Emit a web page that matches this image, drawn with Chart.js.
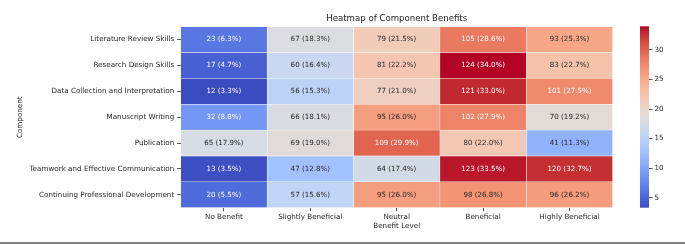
<!DOCTYPE html>
<html>
<head>
<meta charset="utf-8">
<script src="https://cdn.jsdelivr.net/npm/chart.js@4.4.1/dist/chart.umd.min.js"></script>
<style>
    body { margin: 0; background: #fff; }
    #wrap { position: relative; width: 685px; height: 245px; }
    #heatmap { position: absolute; left: 0; top: 0; }
    #cbar { position: absolute; left: 630px; top: 0; }
    #rule { position: absolute; left: 0; top: 242px; width: 685px; height: 2px; background: #808080; }
</style>
</head>
<body>
<div id="wrap">
    <canvas id="heatmap" width="685" height="245"></canvas>
    <canvas id="cbar" width="55" height="245"></canvas>
    <div id="rule"></div>
</div>
<script>
const components = [
    'Literature Review Skills',
    'Research Design Skills',
    'Data Collection and Interpretation',
    'Manuscript Writing',
    'Publication',
    'Teamwork and Effective Communication',
    'Continuing Professional Development'
];
const levels = ['No Benefit', 'Slightly Beneficial', 'Neutral', 'Beneficial', 'Highly Beneficial'];

// counts per benefit level (one value per component)
const noBenefit = [23, 17, 12, 32, 65, 13, 20];
const slightlyBeneficial = [67, 60, 56, 66, 69, 47, 57];
const neutral = [79, 81, 77, 95, 109, 64, 95];
const beneficial = [105, 124, 121, 102, 80, 123, 98];
const highlyBeneficial = [93, 83, 101, 70, 41, 120, 96];

// row percentages
const noBenefitPct = [6.3, 4.7, 3.3, 8.8, 17.9, 3.5, 5.5];
const slightlyBeneficialPct = [18.3, 16.4, 15.3, 18.1, 19.0, 12.8, 15.6];
const neutralPct = [21.5, 22.2, 21.0, 26.0, 29.9, 17.4, 26.0];
const beneficialPct = [28.6, 34.0, 33.0, 27.9, 22.0, 33.5, 26.8];
const highlyBeneficialPct = [25.3, 22.7, 27.5, 19.2, 11.3, 32.7, 26.2];

const cbarTicks = [5, 10, 15, 20, 25, 30];

const counts = [noBenefit, slightlyBeneficial, neutral, beneficial, highlyBeneficial];
const pcts = [noBenefitPct, slightlyBeneficialPct, neutralPct, beneficialPct, highlyBeneficialPct];
const allPct = pcts.flat();
const vmin = Math.min(...allPct);
const vmax = Math.max(...allPct);

// matplotlib coolwarm, sampled
const coolwarm = [
    [59,76,192],[68,90,204],[77,104,215],[87,117,225],[98,130,234],[108,142,241],
    [119,154,247],[130,165,251],[141,176,254],[152,185,255],[163,194,255],[174,201,253],
    [184,208,249],[194,213,244],[204,217,238],[213,219,230],[221,221,221],[229,216,209],
    [236,211,197],[241,204,185],[245,196,173],[247,187,160],[247,177,148],[247,166,135],
    [244,154,123],[241,141,111],[236,127,99],[229,112,88],[222,96,77],[213,80,66],
    [203,62,56],[192,40,47],[180,4,38]
];

function cmap(t) {
    t = Math.max(0, Math.min(1, t));
    const p = t * (coolwarm.length - 1);
    const i = Math.min(Math.floor(p), coolwarm.length - 2);
    const f = p - i;
    const a = coolwarm[i], b = coolwarm[i + 1];
    return [0, 1, 2].map(k => Math.round(a[k] + (b[k] - a[k]) * f));
}

function colorFor(v) {
    const c = cmap((v - vmin) / (vmax - vmin));
    return 'rgb(' + c.join(',') + ')';
}

function textColorFor(v) {
    const c = cmap((v - vmin) / (vmax - vmin)).map(x => {
        x = x / 255;
        return x <= 0.03928 ? x / 12.92 : Math.pow((x + 0.055) / 1.055, 2.4);
    });
    const lum = 0.2126 * c[0] + 0.7152 * c[1] + 0.0722 * c[2];
    return lum > 0.408 ? '#262626' : '#ffffff';
}

const font = "'DejaVu Sans', sans-serif";
const dark = '#262626';

const cellLabels = {
    id: 'cellLabels',
    afterDatasetsDraw(chart) {
        const ctx = chart.ctx;
        ctx.save();
        ctx.font = '7.1px ' + font;
        ctx.textAlign = 'center';
        ctx.textBaseline = 'middle';
        chart.data.datasets.forEach((ds, di) => {
            const meta = chart.getDatasetMeta(di);
            meta.data.forEach((bar, i) => {
                const cx = (bar.x + bar.base) / 2;
                ctx.fillStyle = textColorFor(pcts[di][i]);
                ctx.fillText(counts[di][i] + ' (' + pcts[di][i].toFixed(1) + '%)', cx, bar.y);
            });
        });
        // title centred over the heatmap
        const area = chart.chartArea;
        ctx.fillStyle = dark;
        ctx.font = '8.6px ' + font;
        ctx.fillText('Heatmap of Component Benefits', (area.left + area.right) / 2, 19);
        ctx.restore();
    }
};

new Chart(document.getElementById('heatmap'), {
    type: 'bar',
    data: {
        labels: components,
        datasets: counts.map((col, j) => ({
            label: levels[j],
            data: col.map(() => 1),
            backgroundColor: pcts[j].map(colorFor),
            borderColor: '#ffffff',
            borderWidth: 0.5,
            borderSkipped: false,
            barPercentage: 1,
            categoryPercentage: 1
        }))
    },
    options: {
        indexAxis: 'y',
        responsive: false,
        animation: false,
        layout: { padding: { left: 0, right: 72.3, top: 26.7, bottom: 0 } },
        plugins: { legend: { display: false }, tooltip: { enabled: false }, title: { display: false } },
        scales: {
            x: {
                type: 'linear',
                stacked: true,
                min: 0,
                max: levels.length,
                afterBuildTicks: scale => {
                    scale.ticks = levels.map((l, i) => ({ value: i + 0.5 }));
                },
                afterFit: scale => { scale.height = 37.3; },
                grid: { drawOnChartArea: false, drawTicks: true, tickLength: 3.5, color: dark, lineWidth: 0.8 },
                border: { display: false },
                ticks: {
                    autoSkip: false,
                    maxRotation: 0,
                    padding: 1.5,
                    color: dark,
                    font: { family: font, size: 7.2 },
                    callback: (v, i) => levels[i]
                },
                title: {
                    display: true,
                    text: 'Benefit Level',
                    color: dark,
                    font: { family: font, size: 7.2, lineHeight: 1.2 },
                    padding: { top: 0, bottom: 14.7 }
                }
            },
            y: {
                stacked: true,
                afterFit: scale => { scale.width = 180.7; },
                grid: { drawOnChartArea: false, drawTicks: true, offset: false, tickLength: 3.5, color: dark, lineWidth: 0.8 },
                border: { display: false },
                ticks: {
                    autoSkip: false,
                    padding: 3,
                    color: dark,
                    font: { family: font, size: 7.2 }
                },
                title: {
                    display: true,
                    text: 'Component',
                    color: dark,
                    font: { family: font, size: 7.2, lineHeight: 1.2 },
                    padding: { top: 15.7, bottom: 0 }
                }
            }
        }
    },
    plugins: [cellLabels]
});

const gradientBar = {
    id: 'gradientBar',
    beforeDatasetsDraw(chart) {
        const ctx = chart.ctx;
        const area = chart.chartArea;
        const y = chart.scales.y;
        const grad = ctx.createLinearGradient(0, y.getPixelForValue(vmin), 0, y.getPixelForValue(vmax));
        for (let k = 0; k <= 64; k++) {
            const v = vmin + (vmax - vmin) * k / 64;
            grad.addColorStop(k / 64, colorFor(v));
        }
        ctx.save();
        ctx.fillStyle = grad;
        ctx.fillRect(area.left, area.top, area.right - area.left, area.bottom - area.top);
        ctx.restore();
    }
};

new Chart(document.getElementById('cbar'), {
    type: 'scatter',
    data: { datasets: [{ data: [] }] },
    options: {
        responsive: false,
        animation: false,
        layout: { padding: { left: 10, right: 0, top: 26.3, bottom: 37.3 } },
        plugins: { legend: { display: false }, tooltip: { enabled: false } },
        scales: {
            x: { display: false, min: 0, max: 1 },
            y: {
                position: 'right',
                min: vmin,
                max: vmax,
                afterBuildTicks: scale => {
                    scale.ticks = cbarTicks.map(v => ({ value: v }));
                },
                afterFit: scale => { scale.width = 36; },
                grid: { drawOnChartArea: false, drawTicks: true, tickLength: 3.5, color: dark, lineWidth: 0.8 },
                border: { display: false },
                ticks: {
                    padding: 2,
                    color: dark,
                    font: { family: font, size: 7.2 }
                }
            }
        }
    },
    plugins: [gradientBar]
});
</script>
</body>
</html>
